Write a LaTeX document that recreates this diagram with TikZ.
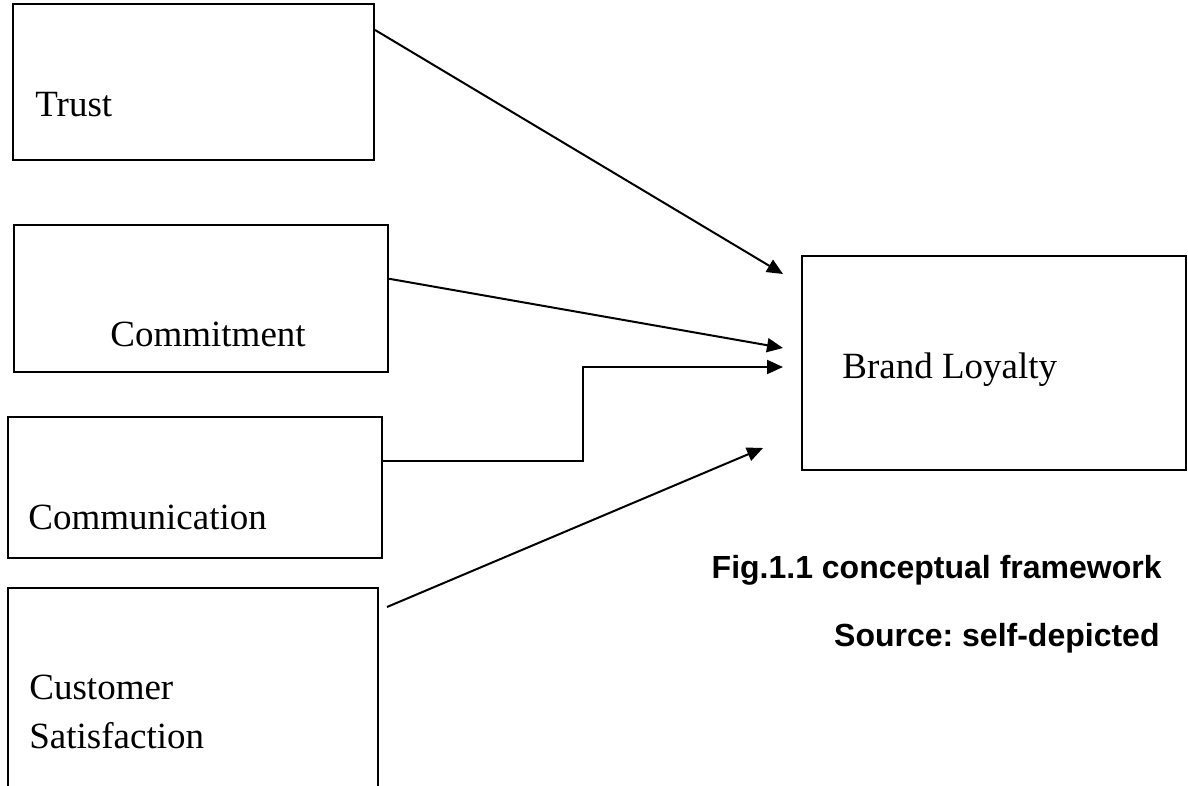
\documentclass[tikz,border=0pt]{standalone}
\usepackage{fontspec}
\setmainfont{Liberation Serif}
\newfontfamily\capfont{Liberation Sans}
\usetikzlibrary{arrows.meta}
\frenchspacing
\begin{document}
\begin{tikzpicture}[x=0.5pt,y=-0.5pt,
  box/.style={draw=black,line width=1pt,rectangle,inner sep=0pt},
  lbl/.style={anchor=base west,inner sep=0pt,align=left,font=\fontsize{18.5}{24.5}\selectfont},
  capt/.style={anchor=base east,inner sep=0pt,font=\capfont\bfseries\fontsize{16}{19}\selectfont},
  link/.style={line width=1pt,-{Triangle[length=8pt,width=7pt]}}]
\clip (0,0) rectangle (1188,786);
\node[box,minimum width=180.5pt,minimum height=78pt] (trust) at (193.5,82) {};
\node[box,minimum width=187pt,minimum height=73.5pt] (commit) at (201,298.5) {};
\node[box,minimum width=187pt,minimum height=70.5pt] (comm) at (195,487.5) {};
\node[box,minimum width=185pt,minimum height=121pt] (csat) at (193,709) {};
\node[box,minimum width=192pt,minimum height=107pt] (brand) at (994,363) {};
\node[lbl] (trust-t) at (35,117) {Trust};
\node[lbl] (commit-t) at (110,346) {Commitment};
\node[lbl] (comm-t) at (28,529) {Communication};
\node[lbl] (csat-t) at (29,748) {Customer\\Satisfaction};
\node[lbl] (brand-t) at (842,378) {Brand Loyalty};
\node[capt] (fig) at (1162,578) {Fig.1.1 conceptual framework};
\node[capt] (src) at (1160,646) {Source: self-depicted};
\coordinate (in1) at (783,274);
\coordinate (in2) at (783,348);
\coordinate (in3) at (783,367);
\coordinate (in4) at (763,448);
\coordinate (csat-out) at (387,607);
\draw[link] (trust.16.65)--(in1);
\draw[link] (commit.6.56)--(in2);
\draw[link] (comm.8.37)-|(583,367)--(in3);
\draw[link] (csat-out)--(in4);
\end{tikzpicture}
\end{document}
